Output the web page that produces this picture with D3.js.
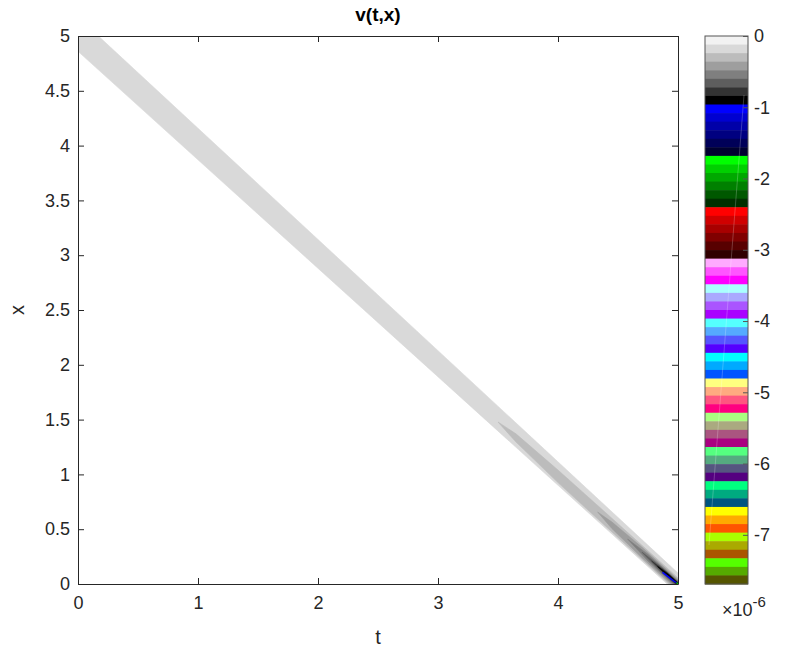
<!DOCTYPE html>
<html>
<head>
<meta charset="utf-8">
<script src="https://cdn.jsdelivr.net/npm/d3@7"></script>
<style>
  body { margin: 0; background: #fff; }
  svg { display: block; font-family: "Liberation Sans", Arial, Helvetica, sans-serif; }
</style>
</head>
<body>
<div id="chart"></div>
<script>
const width = 803;
const height = 653;

// axis ticks
const tTicks = [0, 1, 2, 3, 4, 5];
const xTicks = [0, 0.5, 1, 1.5, 2, 2.5, 3, 3.5, 4, 4.5, 5];
const cbTicks = [0, -1, -2, -3, -4, -5, -6, -7];

// colour limits (units of 1e-6)
const cMin = -7.69;
const cMax = 0;

// colormap, top of the colorbar first
const cmapColors = [
  "#f2f2f2", "#d9d9d9", "#bcbcbc", "#9e9e9e", "#7f7f7f", "#5e5e5e", "#333333", "#000000",
  "#0000ff", "#0000d0", "#0000a8", "#000080", "#000058", "#000030",
  "#00ff00", "#00d000", "#00a800", "#008000", "#005800", "#003000",
  "#ff0000", "#d00000", "#a80000", "#800000", "#580000", "#300000",
  "#ffaaff", "#ff55ff", "#ff00ff",
  "#aaffff", "#aaaaff", "#aa55ff", "#aa00ff",
  "#55ffff", "#55aaff", "#5555ff", "#5500ff",
  "#00ffff", "#00aaff", "#0055ff",
  "#ffff80", "#ffaa80", "#ff5580", "#ff0080",
  "#aaff80", "#aaaa80", "#aa5580", "#aa0080",
  "#55ff80", "#55aa80", "#555580", "#550080",
  "#00ff80", "#00aa80", "#005580",
  "#ffff00", "#ffaa00", "#ff5500",
  "#aaff00", "#aaaa00", "#aa5500",
  "#55ff00", "#55aa00", "#555500"
];

// filled contour regions, [t, x]
const levels = [-0.15, -0.3, -0.42, -0.55, -0.67, -0.8, -0.92, -1.02, -1.85];
const regionOuter = [[0, 5], [0.17, 5], [5, 0.10], [5, 0], [4.91, 0], [0, 4.86]];
const region1 = [[3.5, 1.478], [3.65, 1.37], [4.0, 1.04], [4.5, 0.55], [4.9, 0.155], [5, 0.055],
                 [5, 0], [4.925, 0], [4.5, 0.425], [4.0, 0.925], [3.65, 1.295]];
const region2 = [[4.33, 0.657], [4.45, 0.565], [4.7, 0.335], [5, 0.04],
                 [5, 0], [4.94, 0], [4.7, 0.24], [4.45, 0.505]];
const region3 = [[4.58, 0.41], [4.75, 0.27], [5, 0.028], [5, 0], [4.955, 0], [4.75, 0.21]];
const region4 = [[4.7, 0.29], [4.85, 0.165], [5, 0.02], [5, 0], [4.97, 0], [4.85, 0.12]];
const region5 = [[4.78, 0.21], [4.9, 0.112], [5, 0.013], [5, 0], [4.982, 0], [4.9, 0.082]];
const region6 = [[4.83, 0.16], [4.92, 0.088], [5, 0.009], [5, 0], [4.99, 0], [4.92, 0.068]];
const region7 = [[4.875, 0.109], [4.975, 0.024], [4.99, 0.012], [4.965, 0.02], [4.87, 0.1]];
const region8 = [[4.99, 0.012], [5, 0.008], [5, 0], [4.99, 0.002]];
const regions = [regionOuter, region1, region2, region3, region4, region5, region6, region7, region8];

const margin = { left: 78, right: 125, top: 36, bottom: 69 };
const plotW = width - margin.left - margin.right;   // 600
const plotH = height - margin.top - margin.bottom;  // 548

const tScale = d3.scaleLinear().domain([0, 5]).range([margin.left, margin.left + plotW]);
const xScale = d3.scaleLinear().domain([0, 5]).range([margin.top + plotH, margin.top]);

const colorScale = d3.scaleQuantize()
  .domain([cMin, cMax])
  .range(cmapColors.slice().reverse());

const axisColor = "#262626";
const fontSize = 18;

const svg = d3.select("#chart").append("svg")
  .attr("width", width)
  .attr("height", height);

svg.append("defs").append("clipPath").attr("id", "plotClip")
  .append("rect")
  .attr("x", margin.left).attr("y", margin.top)
  .attr("width", plotW).attr("height", plotH);

svg.append("rect")
  .attr("x", margin.left).attr("y", margin.top)
  .attr("width", plotW).attr("height", plotH)
  .attr("fill", "#fff");

const line = d3.line()
  .x(d => tScale(d[0]))
  .y(d => xScale(d[1]));

svg.append("g").attr("clip-path", "url(#plotClip)")
  .selectAll("path")
  .data(regions)
  .join("path")
  .attr("d", d => line(d) + "Z")
  .attr("fill", (d, i) => colorScale(levels[i]))
  .attr("stroke", (d, i) => colorScale(levels[i]))
  .attr("stroke-width", 0.6);

// axes: ticks inside, mirrored on top and right
const bottomAxis = d3.axisBottom(tScale).tickValues(tTicks).tickSizeInner(-6).tickSizeOuter(0)
  .tickPadding(12).tickFormat(d3.format("~g"));
const leftAxis = d3.axisLeft(xScale).tickValues(xTicks).tickSizeInner(-6).tickSizeOuter(0)
  .tickPadding(8).tickFormat(d3.format("~g"));
const topAxis = d3.axisTop(tScale).tickValues(tTicks).tickSizeInner(-6).tickSizeOuter(0).tickFormat("");
const rightAxis = d3.axisRight(xScale).tickValues(xTicks).tickSizeInner(-6).tickSizeOuter(0).tickFormat("");

function styleAxis(g) {
  g.select(".domain").attr("stroke", axisColor).attr("stroke-width", 1);
  g.selectAll(".tick line").attr("stroke", axisColor).attr("stroke-width", 1);
  g.selectAll(".tick text").attr("fill", axisColor).style("font-size", fontSize + "px")
    .style("font-family", "Liberation Sans, Arial, sans-serif");
}

svg.append("g").attr("transform", `translate(0,${margin.top + plotH})`).call(bottomAxis).call(styleAxis);
svg.append("g").attr("transform", `translate(${margin.left},0)`).call(leftAxis).call(styleAxis);
svg.append("g").attr("transform", `translate(0,${margin.top})`).call(topAxis).call(styleAxis);
svg.append("g").attr("transform", `translate(${margin.left + plotW},0)`).call(rightAxis).call(styleAxis);

// labels
svg.append("text")
  .attr("x", margin.left + plotW / 2).attr("y", 21)
  .attr("text-anchor", "middle")
  .attr("font-weight", "bold")
  .attr("fill", "#000")
  .style("font-size", "19px")
  .text("v(t,x)");

svg.append("text")
  .attr("x", margin.left + plotW / 2).attr("y", 644)
  .attr("text-anchor", "middle")
  .attr("fill", axisColor)
  .style("font-size", "20px")
  .text("t");

svg.append("text")
  .attr("transform", `translate(24,${margin.top + plotH / 2}) rotate(-90)`)
  .attr("text-anchor", "middle")
  .attr("fill", axisColor)
  .style("font-size", "20px")
  .text("x");

// colorbar
const cbX = 705;
const cbW = 43;
const cbScale = d3.scaleLinear().domain([cMin, cMax]).range([margin.top + plotH, margin.top]);
const nColors = cmapColors.length;
const step = (cMax - cMin) / nColors;

const cb = svg.append("g");
cb.selectAll("rect.band")
  .data(cmapColors)
  .join("rect")
  .attr("class", "band")
  .attr("x", cbX)
  .attr("y", (d, i) => cbScale(cMax - i * step))
  .attr("width", cbW)
  .attr("height", (d, i) => cbScale(cMax - (i + 1) * step) - cbScale(cMax - i * step) + 0.5)
  .attr("fill", d => d);

// faint streak across the colorbar
cb.append("line")
  .attr("x1", cbX + 39).attr("y1", 95)
  .attr("x2", cbX + 4).attr("y2", 545)
  .attr("stroke", "#fff")
  .attr("stroke-opacity", 0.22)
  .attr("stroke-width", 1);

cb.append("rect")
  .attr("x", cbX).attr("y", margin.top)
  .attr("width", cbW).attr("height", plotH)
  .attr("fill", "none")
  .attr("stroke", "#555")
  .attr("stroke-width", 1);

const cbAxis = d3.axisRight(cbScale).tickValues(cbTicks).tickSizeInner(0).tickSizeOuter(0)
  .tickPadding(6).tickFormat(d => String(d));
const cbG = svg.append("g").attr("transform", `translate(${cbX + cbW},0)`).call(cbAxis);
cbG.select(".domain").remove();
cbG.selectAll(".tick text").attr("fill", axisColor).style("font-size", fontSize + "px")
  .style("font-family", "Liberation Sans, Arial, sans-serif");
cbG.selectAll(".tick").append("line")
  .attr("x1", -5).attr("x2", 0)
  .attr("stroke", "#555").attr("stroke-width", 1);

const expo = svg.append("text")
  .attr("x", 722).attr("y", 616)
  .attr("fill", axisColor)
  .style("font-size", "18px");
expo.append("tspan").text("\u00d710");
expo.append("tspan").attr("dy", -9).style("font-size", "15px").text("-6");
</script>
</body>
</html>
